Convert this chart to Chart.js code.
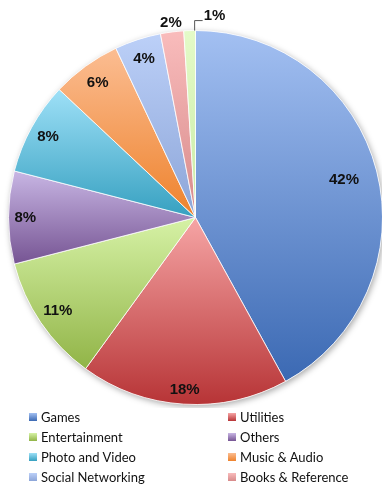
<!DOCTYPE html>
<html>
<head>
<meta charset="utf-8">
<title>App categories</title>
<script src="https://cdn.jsdelivr.net/npm/chart.js@4"></script>
<style>
  html, body { margin: 0; padding: 0; background: #fff; overflow: hidden; }
  body { width: 382px; height: 487px; position: relative; }
  #pie { position: absolute; left: 0; top: 0; }
  #legend {
    position: absolute; left: 29px; top: 407px;
    display: grid; grid-template-columns: 199px 160px; grid-auto-rows: 20px;
    font-family: "Lato", "Liberation Sans", sans-serif; font-size: 13px; color: #111;
  }
  #legend .item { display: flex; align-items: center; white-space: nowrap; }
  #legend .box { width: 8px; height: 8px; margin-right: 4px; flex: none; }
</style>
</head>
<body>
<canvas id="pie" width="392" height="408"></canvas>
<div id="legend"></div>

<script>
/* ─── Data ─── */
const categories = ["Games", "Utilities", "Entertainment", "Others", "Photo and Video",
                    "Music & Audio", "Social Networking", "Books & Reference", "Misc"];
const shares = [42, 18, 11, 8, 8, 6, 4, 2, 1];
const legendCount = 8;   // last slice has no legend entry

/* ─── Slice colours (light at top, dark at bottom) ─── */
const topColors    = ["#a3c0f2", "#f6a5a5", "#d6f2a6", "#c8b6e4", "#9ee0f7", "#fbbd92", "#bcd0f8", "#f9bcbc", "#e4fbc8"];
const bottomColors = ["#3b69b3", "#b73436", "#91b447", "#765493", "#36a0c0", "#ee822c", "#8ca5d8", "#d78a8a", "#c9eaa6"];

/* label distance as fraction of radius; null = leader line */
const labelDistance = [0.82, 0.925, 0.89, 0.91, 0.9, 0.89, 0.89, 1.05, null];

const total = shares.reduce((a, b) => a + b, 0);

function sliceAngles(i) {
  const before = shares.slice(0, i).reduce((a, b) => a + b, 0);
  const start = -Math.PI / 2 + 2 * Math.PI * before / total;
  return [start, start + 2 * Math.PI * shares[i] / total];
}

/* vertical gradient spanning each slice's own bounding box */
function sliceGradient(ctx) {
  const i = ctx.dataIndex;
  const chart = ctx.chart;
  const area = chart.chartArea;
  if (!area || i === undefined) return bottomColors[i] || "#ccc";
  const cx = (area.left + area.right) / 2;
  const cy = (area.top + area.bottom) / 2;
  const r = (Math.min(area.width, area.height) - 1) / 2;
  const [a0, a1] = sliceAngles(i);
  const ys = [cy, cy + r * Math.sin(a0), cy + r * Math.sin(a1)];
  [-Math.PI / 2, Math.PI / 2, 3 * Math.PI / 2].forEach(a => {
    if (a >= a0 && a <= a1) ys.push(cy + r * Math.sin(a));
  });
  const y0 = Math.min(...ys), y1 = Math.max(...ys);
  const g = chart.ctx.createLinearGradient(0, y0, 0, y1 + 0.01);
  g.addColorStop(0, topColors[i]);
  g.addColorStop(1, bottomColors[i]);
  return g;
}

/* ─── Soft drop shadow behind the pie ─── */
const pieShadow = {
  id: "pieShadow",
  beforeDatasetsDraw(chart) {
    const arc = chart.getDatasetMeta(0).data[0];
    if (!arc) return;
    const c = chart.ctx;
    c.save();
    c.shadowColor = "rgba(0,0,0,0.35)";
    c.shadowBlur = 6;
    c.shadowOffsetX = 1.5;
    c.shadowOffsetY = 2;
    c.fillStyle = "#fff";
    c.beginPath();
    c.arc(arc.x, arc.y, arc.outerRadius, 0, Math.PI * 2);
    c.fill();
    c.restore();
  }
};

/* ─── Percentage labels ─── */
const pctLabels = {
  id: "pctLabels",
  afterDatasetsDraw(chart) {
    const c = chart.ctx;
    c.save();
    c.font = "bold 15px 'Liberation Sans', Arial, sans-serif";
    c.fillStyle = "#111";
    c.textBaseline = "middle";
    chart.getDatasetMeta(0).data.forEach((arc, i) => {
      const mid = (arc.startAngle + arc.endAngle) / 2;
      const text = Math.round(shares[i] / total * 100) + "%";
      const k = labelDistance[i];
      if (k !== null) {
        c.textAlign = "center";
        c.fillText(text, arc.x + Math.cos(mid) * arc.outerRadius * k,
                         arc.y + Math.sin(mid) * arc.outerRadius * k);
      } else {
        const sx = arc.x + Math.cos(mid) * arc.outerRadius + 5;
        const sy = arc.y + Math.sin(mid) * arc.outerRadius;
        c.strokeStyle = "#555";
        c.lineWidth = 1;
        c.beginPath();
        c.moveTo(sx, sy);
        c.lineTo(sx, sy - 10);
        c.lineTo(sx + 8, sy - 10);
        c.stroke();
        c.textAlign = "left";
        c.fillText(text, sx + 9, sy - 15);
      }
    });
    c.restore();
  }
};

/* ─── Chart ─── */
const pieChart = new Chart(document.getElementById("pie"), {
  type: "pie",
  data: {
    labels: categories,
    datasets: [{
      data: shares,
      backgroundColor: sliceGradient,
      borderColor: "rgba(255,255,255,0.8)",
      borderWidth: 1,
      hoverOffset: 0,
    }],
  },
  options: {
    responsive: false,
    animation: false,
    layout: { padding: { left: 8, top: 30, right: 9, bottom: 3 } },
    plugins: {
      legend: { display: false },
      tooltip: { enabled: false },
    },
  },
  plugins: [pieShadow, pctLabels],
});

/* ─── HTML legend ─── */
document.getElementById("legend").innerHTML = categories.slice(0, legendCount).map((name, i) => `
  <div class="item">
    <span class="box" style="background:linear-gradient(${topColors[i]}, ${bottomColors[i]})"></span>${name}
  </div>`).join("");
</script>
</body>
</html>
